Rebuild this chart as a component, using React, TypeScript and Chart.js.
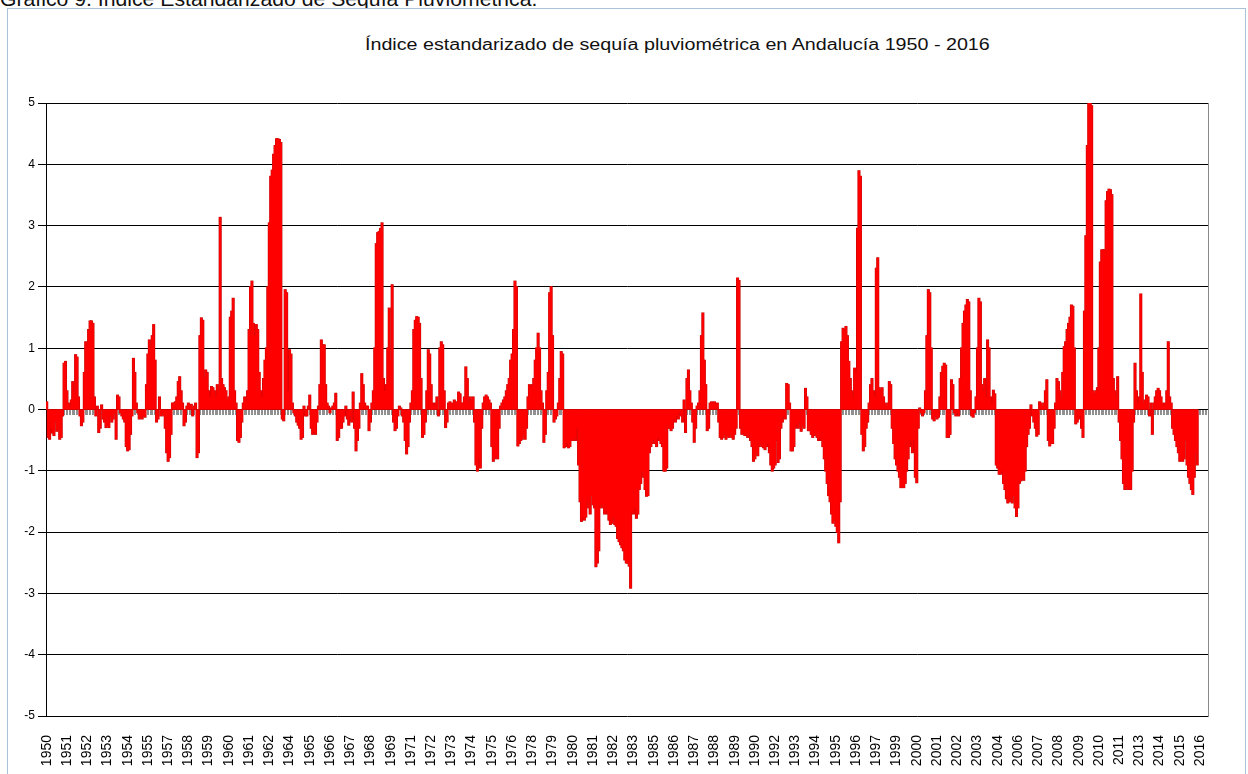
import React, { useEffect, useRef } from 'react';
import { Chart, registerables } from 'chart.js';

Chart.register(...registerables);

const pageTitle = 'Gráfico 9. Índice Estandarizado de Sequía Pluviométrica.';
const chartTitle = 'Índice estandarizado de sequía pluviométrica en Andalucía 1950 - 2016';

const firstYear = 1950;
const lastYear = 2016;
const labelEvery = 14;
const yMin = -5;
const yMax = 5;
const yStep = 1;

// Monthly index values, January to December, one row per year
const values1950s = [
  0.12, -0.45, -0.48, -0.3, -0.38, -0.42, -0.2, -0.35, -0.3, -0.48, -0.45, -0.1,
  0.75, 0.78, 0.3, 0.1, 0.05, 0.15, 0.45, 0.3, 0.89, 0.85, 0.2, -0.1,
  -0.26, -0.2, 0.6, 1.1, 1.05, 1.3, 1.44, 1.44, 1.4, 0.2, -0.1, 0.05,
  -0.37, -0.3, 0.07, -0.15, -0.2, -0.29, -0.25, -0.29, -0.1, -0.2, -0.15, -0.05,
  -0.48, 0.23, 0.2, -0.05, -0.1, -0.15, -0.2, -0.6, -0.67, -0.65, -0.4, -0.1,
  0.83, 0.6, 0.1, -0.05, -0.15, -0.12, -0.15, -0.1, -0.12, 0.4, 0.9, 1.13,
  1.0, 1.2, 1.38, 0.8, -0.2, -0.15, 0.2, -0.1, -0.05, -0.1, -0.3, -0.7,
  -0.84, -0.78, -0.4, 0.1, 0.1, 0.12, 0.2, 0.45, 0.53, 0.3, 0.1, -0.26,
  -0.2, 0.05, 0.1, 0.05, 0.08, -0.1, 0.05, 0.1, -0.78, -0.7, 1.2, 1.49,
  1.45, 0.5, 0.64, 0.6, 0.3, 0.2, 0.37, 0.35, 0.3, 0.2, 0.4, 0.3,
];

const values1960s = [
  3.13, 0.5, 0.4, 0.35, 0.3, 0.15, 0.2, 1.5, 1.6, 1.81, 0.3, 0.1,
  -0.5, -0.53, -0.45, -0.2, 0.1, 0.2, 0.15, 0.3, 1.3, 2.0, 2.09, 1.4,
  1.2, 1.38, 1.3, 0.6, 0.3, 0.2, 0.5, 0.8, 1.0, 2.0, 3.04, 3.8,
  3.9, 4.16, 4.3, 4.41, 4.41, 4.4, 4.35, -0.15, -0.18, 1.95, 1.9, 0.3,
  0.97, 0.9, 0.1, -0.05, -0.1, -0.2, -0.25, -0.3, -0.48, -0.45, 0.05, -0.1,
  -0.1, 0.05, 0.23, -0.3, -0.4, -0.35, -0.4, -0.2, 0.05, 0.4, 1.13, 1.05,
  1.05, 0.4, 0.1, 0.05, -0.05, 0.02, 0.05, 0.1, 0.26, -0.5, -0.45, -0.3,
  -0.3, -0.2, -0.1, 0.05, -0.15, -0.25, -0.1, -0.2, 0.28, -0.3, -0.67, -0.5,
  -0.3, 0.1, 0.58, 0.4, 0.1, 0.05, 0.05, -0.34, -0.2, 0.1, 0.3, 1.0,
  2.7, 2.88, 2.9, 2.95, 3.04, 0.5, 0.3, 0.4, 1.0, 1.65, 0.8, 2.03,
];

const values1970s = [
  -0.2, -0.34, -0.3, -0.1, 0.05, 0.02, -0.1, -0.2, -0.5, -0.72, -0.6, -0.2,
  0.1, 0.3, 1.3, 1.45, 1.51, 1.5, 1.4, 0.5, -0.45, -0.4, -0.2, 0.3,
  0.97, 0.9, 0.4, 0.1, 0.05, 0.1, 0.2, -0.1, 1.0, 1.1, 1.05, 0.3,
  -0.29, -0.2, 0.1, 0.12, 0.1, 0.08, 0.15, 0.1, 0.12, 0.28, 0.25, 0.1,
  0.1, 0.2, 0.69, 0.5, 0.1, 0.2, 0.15, 0.2, -0.2, -0.9, -1.0, -0.8,
  -0.95, -0.3, 0.1, 0.2, 0.23, 0.2, 0.15, 0.1, -0.6, -0.84, -0.8, -0.75,
  -0.8, -0.3, 0.05, 0.1, 0.15, 0.2, 0.3, 0.4, 0.5, 0.8, 0.9, 1.3,
  2.09, 2.0, -0.59, -0.55, -0.5, -0.48, -0.4, -0.48, -0.3, 0.2, 0.4, 0.35,
  0.4, 0.5, 0.8, 1.0, 1.24, 1.0, 0.3, 0.1, -0.53, -0.4, 0.3, 0.6,
  1.9, 2.0, 1.2, -0.2, -0.15, -0.1, 0.1, 0.5, 0.94, 0.9, -0.62, -0.6,
];

const values1980s = [
  -0.55, -0.62, -0.6, -0.5, -0.5, -0.45, -0.5, -0.3, -0.9, -1.5, -1.82, -1.75,
  -1.8, -1.75, -1.5, -1.6, -1.7, -1.4, -1.55, -1.6, -2.56, -2.5, -2.3, -1.6,
  -1.55, -1.6, -1.7, -1.65, -1.7, -1.8, -1.87, -1.85, -1.75, -1.87, -1.9, -2.1,
  -2.15, -2.2, -2.25, -2.3, -2.45, -2.5, -2.5, -2.55, -2.91, -1.65, -1.7, -1.6,
  -1.77, -1.7, -1.3, -1.2, -1.0, -1.1, -1.3, -1.41, -1.4, -0.7, -0.6, -0.55,
  -0.5, -0.55, -0.6, -0.45, -0.5, -0.55, -0.6, -1.0, -1.0, -0.95, -0.3, -0.3,
  -0.34, -0.3, -0.15, -0.2, -0.1, -0.15, -0.05, -0.1, -0.2, 0.15, -0.37, 0.5,
  0.64, 0.3, 0.1, -0.2, -0.53, -0.3, 0.05, 0.1, 0.3, 1.2, 1.57, 0.8,
  0.4, -0.34, -0.3, 0.1, 0.12, 0.1, 0.12, 0.08, 0.1, -0.2, -0.45, -0.48,
  -0.45, -0.4, -0.48, -0.42, -0.45, -0.4, -0.45, -0.48, -0.4, -0.3, 2.14, 2.1,
];

const values1990s = [
  -0.3, -0.4, -0.38, -0.42, -0.4, -0.45, -0.4, -0.5, -0.6, -0.84, -0.8, -0.7,
  -0.75, -0.6, -0.55, -0.6, -0.62, -0.65, -0.6, -0.55, -0.7, -0.9, -1.0, -0.95,
  -0.9, -0.5, -0.86, -0.8, -0.3, -0.2, -0.1, -0.15, 0.42, 0.4, 0.1, -0.67,
  -0.67, -0.6, -0.3, -0.25, -0.3, -0.2, -0.35, -0.25, -0.3, 0.34, 0.2, -0.34,
  -0.34, -0.4, -0.45, -0.42, -0.4, -0.45, -0.5, -0.45, -0.5, -0.6, -0.8, -1.0,
  -1.2, -1.4, -1.5, -1.7, -1.85, -1.8, -1.9, -2.0, -2.17, -1.5, 1.1, 1.32,
  1.3, 1.35, 1.2, 0.78, 0.5, 0.3, 0.2, 0.67, 0.6, 2.95, 3.89, 3.8,
  -0.4, -0.67, -0.6, -0.3, -0.2, 0.1, 0.4, 0.5, 0.3, 0.2, 2.3, 2.47,
  0.35, 0.3, 0.35, 0.2, 0.1, 0.05, 0.1, 0.45, 0.4, -0.3, -0.55, -0.8,
  -0.9, -1.0, -1.1, -1.27, -1.25, -1.27, -1.2, -1.0, -0.8, -0.6, -0.5, -0.7,
];

const values2000s = [
  -0.5, -1.1, -1.19, -0.3, 0.02, -0.05, -0.1, -0.05, 0.3, 1.2, 1.95, 1.9,
  1.0, -0.15, -0.18, -0.1, -0.15, -0.12, 0.2, 0.6, 0.7, 0.75, 0.72, -0.45,
  -0.45, -0.4, 0.48, 0.4, -0.05, -0.1, -0.05, -0.1, 0.5, 1.0, 1.4, 1.6,
  1.7, 1.79, 1.75, 0.3, -0.1, -0.12, -0.05, 0.2, 1.0, 1.81, 1.75, 0.4,
  0.3, 0.5, 0.2, 1.13, 1.0, 0.2, 0.1, 0.31, 0.25, -0.9, -0.95, -1.05,
  -1.05, -1.0, -1.2, -1.3, -1.45, -1.52, -1.5, -1.45, -1.52, -1.4, -1.6, -1.74,
  -1.6, -1.2, -1.16, -1.1, -1.15, -1.0, -0.6, -0.4, -0.3, 0.07, -0.1, -0.2,
  -0.3, -0.43, -0.4, 0.12, 0.1, 0.05, 0.1, 0.3, 0.48, -0.5, -0.59, -0.55,
  -0.55, -0.3, 0.1, 0.5, 0.45, 0.3, 0.2, 0.6, 1.02, 1.1, 1.3, 1.4,
  1.5, 1.7, 1.68, 1.0, -0.23, -0.2, -0.15, -0.1, -0.3, -0.45, 1.6, 2.83,
];

const values2010s = [
  4.3, 5.0, 5.02, 4.95, 0.3, 0.25, 0.3, 0.35, 1.0, 2.4, 2.6, 2.6,
  2.6, 3.4, 3.55, 3.59, 3.58, 3.5, 0.5, 0.3, 0.2, 0.53, -0.2, -0.5,
  -0.8, -1.2, -1.3, -1.25, -1.3, -1.28, -1.3, -1.0, -0.2, 0.75, 0.3, 0.1,
  0.2, 1.88, 0.6, 0.1, 0.15, 0.23, 0.2, -0.1, 0.1, -0.4, 0.1, 0.2,
  0.3, 0.34, 0.3, 0.2, 0.1, 0.05, 0.1, 0.3, 1.1, 0.2, 0.1, -0.3,
  -0.4, -0.5, -0.6, -0.7, -0.84, -0.82, -0.84, -0.8, -0.5, -0.9, -1.1, -1.2,
  -1.3, -1.38, -1.1, -0.7, -0.9,
];

const categories: string[] = [];
for (let y = firstYear; y <= lastYear; y++) {
  for (let m = 0; m < 12; m++) categories.push(String(y));
}

const observed: number[] = [
  ...values1950s, ...values1960s, ...values1970s, ...values1980s,
  ...values1990s, ...values2000s, ...values2010s,
];
const series: (number | null)[] = categories.map((_, i) => (i < observed.length ? observed[i] : null));

const FONT = '"Liberation Sans", Arial, Helvetica, sans-serif';

export default function App() {
  const canvasRef = useRef<HTMLCanvasElement | null>(null);

  useEffect(() => {
    const canvas = canvasRef.current;
    if (!canvas) return;
    const chart = new Chart(canvas, {
      type: 'bar',
      data: {
        labels: categories,
        datasets: [
          {
            data: series,
            backgroundColor: '#ff0000',
            borderWidth: 0,
            barPercentage: 1,
            categoryPercentage: 1,
            grouped: false,
            order: 1,
          } as any,
          {
            data: series,
            backgroundColor: '#c40000',
            borderWidth: 0,
            barPercentage: 1,
            categoryPercentage: 1,
            grouped: false,
            inflateAmount: 0.8,
            order: 2,
          } as any,
        ],
      },
      options: {
        animation: false,
        responsive: false,
        maintainAspectRatio: false,
        layout: { padding: { left: 0, right: 36, top: 94, bottom: 0 } },
        plugins: {
          legend: { display: false },
          tooltip: { enabled: false },
          title: { display: false },
        },
        scales: {
          x: {
            type: 'category',
            offset: true,
            grid: { display: false },
            border: { display: false },
            ticks: {
              autoSkip: false,
              maxRotation: 90,
              minRotation: 90,
              padding: 11,
              color: '#000',
              font: { family: FONT, size: 14 },
              callback: (_v: any, i: number) => (i % labelEvery === 0 ? categories[i] : null),
            },
            afterFit: (s: any) => {
              s.height = 58;
            },
          },
          xz: {
            type: 'category',
            position: { y: 0 },
            offset: true,
            grid: {
              display: true,
              drawOnChartArea: false,
              drawTicks: true,
              tickLength: 5,
              tickColor: 'rgba(0,0,0,0.55)',
              tickWidth: 0.8,
            },
            border: { display: false },
            ticks: { display: false },
          },
          y: {
            min: yMin,
            max: yMax,
            ticks: {
              stepSize: yStep,
              color: '#000',
              padding: 3,
              font: { family: FONT, size: 12 },
            },
            grid: { color: '#000', lineWidth: 1, tickLength: 8 },
            border: { color: '#000', width: 1 },
            afterFit: (s: any) => {
              s.width = 38;
            },
          },
          yr: {
            position: 'right',
            min: yMin,
            max: yMax,
            grid: { display: false },
            ticks: { display: false },
            border: { color: '#8a8a8a', width: 1 },
            afterFit: (s: any) => {
              s.width = 0;
            },
          },
        } as any,
      },
    });
    return () => chart.destroy();
  }, []);

  return (
    <div
      style={{
        position: 'fixed',
        left: 0,
        top: 0,
        width: 1248,
        height: 774,
        overflow: 'hidden',
        background: '#fff',
        fontFamily: FONT,
      }}
    >
      <div
        style={{
          position: 'absolute',
          left: 0,
          top: -12,
          fontSize: 20,
          color: '#111',
          whiteSpace: 'nowrap',
          zIndex: 1,
          transform: 'scaleX(1.06)',
          transformOrigin: 'left top',
        }}
      >
        {pageTitle}
      </div>
      <div
        style={{
          position: 'absolute',
          left: 7,
          top: 8,
          width: 1239,
          height: 790,
          border: '1px solid #a9c2d8',
          boxSizing: 'border-box',
          background: '#fff',
          zIndex: 2,
        }}
      />
      <div
        style={{
          position: 'absolute',
          left: 365,
          top: 36,
          fontSize: 16,
          color: '#111',
          whiteSpace: 'nowrap',
          zIndex: 3,
          transform: 'scaleX(1.23)',
          transformOrigin: 'left top',
        }}
      >
        {chartTitle}
      </div>
      <canvas
        ref={canvasRef}
        width={1236}
        height={765}
        style={{ position: 'absolute', left: 8, top: 9, width: 1236, height: 765, zIndex: 3 }}
      />
    </div>
  );
}
